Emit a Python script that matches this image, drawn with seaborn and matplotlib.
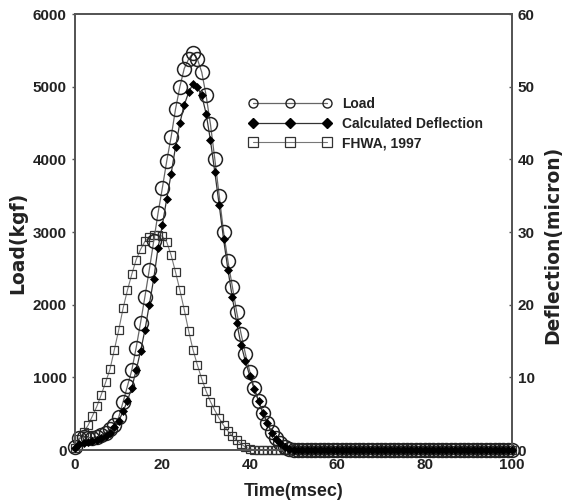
import matplotlib
matplotlib.use("Agg")
import matplotlib.pyplot as plt
from matplotlib.lines import Line2D
from matplotlib.ticker import MultipleLocator
import seaborn as sns

# ---------------- data ----------------
time_ms = [0, 1, 2, 3, 4, 5, 6, 7, 8, 9,
           10, 11, 12, 13, 14, 15, 16, 17, 18, 19,
           20, 21, 22, 23, 24, 25, 26, 27, 28, 29,
           30, 31, 32, 33, 34, 35, 36, 37, 38, 39,
           40, 41, 42, 43, 44, 45, 46, 47, 48, 49,
           50, 51, 52, 53, 54, 55, 56, 57, 58, 59,
           60, 61, 62, 63, 64, 65, 66, 67, 68, 69,
           70, 71, 72, 73, 74, 75, 76, 77, 78, 79,
           80, 81, 82, 83, 84, 85, 86, 87, 88, 89,
           90, 91, 92, 93, 94, 95, 96, 97, 98, 99, 100]

load_kgf = [40, 160, 175, 170, 170, 180, 200, 240, 290, 350,
            450, 660, 880, 1100, 1410, 1750, 2110, 2480, 2870, 3260,
            3610, 3980, 4310, 4690, 5000, 5250, 5380, 5460, 5380, 5200,
            4880, 4480, 4000, 3500, 3000, 2600, 2250, 1900, 1600, 1320,
            1080, 860, 680, 515, 375, 250, 160, 95, 45, 15,
            0, 0, 0, 0, 0, 0, 0, 0, 0, 0,
            0, 0, 0, 0, 0, 0, 0, 0, 0, 0,
            0, 0, 0, 0, 0, 0, 0, 0, 0, 0,
            0, 0, 0, 0, 0, 0, 0, 0, 0, 0,
            0, 0, 0, 0, 0, 0, 0, 0, 0, 0, 0]

deflection_micron = [0.3, 0.8, 1.0, 1.1, 1.2, 1.4, 1.6, 1.9, 2.4, 3.1,
                     4.0, 5.3, 6.8, 8.6, 11.0, 13.6, 16.5, 20.0, 23.5, 27.8,
                     31.0, 34.6, 38.0, 41.7, 45.0, 47.5, 49.2, 50.4, 49.9, 48.8,
                     46.3, 42.6, 38.2, 33.7, 29.0, 24.8, 21.0, 17.5, 14.5, 12.2,
                     10.2, 8.4, 6.7, 5.1, 3.7, 2.4, 1.5, 0.9, 0.4, 0.1,
                     0, 0, 0, 0, 0, 0, 0, 0, 0, 0,
                     0, 0, 0, 0, 0, 0, 0, 0, 0, 0,
                     0, 0, 0, 0, 0, 0, 0, 0, 0, 0,
                     0, 0, 0, 0, 0, 0, 0, 0, 0, 0,
                     0, 0, 0, 0, 0, 0, 0, 0, 0, 0, 0]

fhwa_kgf = [30, 150, 250, 340, 470, 600, 760, 930, 1110, 1380,
            1650, 1950, 2200, 2420, 2620, 2760, 2870, 2930, 2960, 2965,
            2940, 2860, 2680, 2450, 2200, 1930, 1640, 1380, 1170, 980,
            810, 665, 545, 435, 340, 260, 190, 135, 85, 40,
            15, 5, 0, 0, 0, 0, 0, 0, 0, 0,
            0, 0, 0, 0, 0, 0, 0, 0, 0, 0,
            0, 0, 0, 0, 0, 0, 0, 0, 0, 0,
            0, 0, 0, 0, 0, 0, 0, 0, 0, 0,
            0, 0, 0, 0, 0, 0, 0, 0, 0, 0,
            0, 0, 0, 0, 0, 0, 0, 0, 0, 0, 0]

series_labels = ["Load", "Calculated Deflection", "FHWA, 1997"]
x_ticks = [0, 20, 40, 60, 80, 100]
load_ticks = [0, 1000, 2000, 3000, 4000, 5000, 6000]
defl_ticks = [0, 10, 20, 30, 40, 50, 60]

# ---------------- style ----------------
sns.set_style("white")
plt.rcParams["font.family"] = ["Liberation Sans", "DejaVu Sans"]
plt.rcParams["font.weight"] = "bold"
TXT = "#222222"
SPINE = "#555555"

fig = plt.figure(figsize=(5.62, 5.03), dpi=100)
ax = fig.add_axes([75 / 562, 1 - 450 / 503, 437 / 562, 436 / 503])
ax2 = ax.twinx()

sns.lineplot(x=time_ms, y=fhwa_kgf, ax=ax, color="#777777", linewidth=0.8,
             marker="s", markersize=6, markerfacecolor="none",
             markeredgecolor="#333333", markeredgewidth=0.9,
             clip_on=False, zorder=2)
sns.lineplot(x=time_ms, y=load_kgf, ax=ax, color="#666666", linewidth=0.9,
             marker="o", markersize=10, markerfacecolor="none",
             markeredgecolor="#222222", markeredgewidth=1.1,
             clip_on=False, zorder=3)
sns.lineplot(x=time_ms, y=deflection_micron, ax=ax2, color="#333333",
             linewidth=0.9, marker="D", markersize=4.2,
             markerfacecolor="black", markeredgecolor="black",
             markeredgewidth=0.5, clip_on=False, zorder=4)

ax.set_xlim(0, 100)
ax.set_ylim(0, 6000)
ax2.set_ylim(0, 60)
ax.set_xticks(x_ticks)
ax.set_yticks(load_ticks)
ax2.set_yticks(defl_ticks)
ax.xaxis.set_minor_locator(MultipleLocator(2))

ax.tick_params(axis="x", which="major", direction="in", length=3, width=1,
               color=SPINE, pad=6, labelsize=11, labelcolor=TXT)
ax.tick_params(axis="x", which="minor", direction="in", length=1.5,
               width=0.8, color=SPINE)
ax.tick_params(axis="y", direction="out", length=2.5, width=1, color=SPINE,
               pad=3.5, labelsize=11, labelcolor=TXT)
ax2.tick_params(axis="y", direction="in", length=2.5, width=1, color=SPINE,
                pad=4, labelsize=11, labelcolor=TXT)
for lab in ax.get_xticklabels() + ax.get_yticklabels() + ax2.get_yticklabels():
    lab.set_fontweight("bold")

for a in (ax, ax2):
    for s in a.spines.values():
        s.set_color(SPINE)
        s.set_linewidth(1.3)
        s.set_visible(True)

ylab_font = {"family": ["DejaVu Sans"], "size": 13.5, "weight": "bold"}
ax.set_xlabel("Time(msec)", fontsize=13, fontweight="bold", color=TXT)
ax.set_ylabel("Load(kgf)", fontdict=ylab_font, color=TXT)
ax2.set_ylabel("Deflection(micron)", fontdict=ylab_font, color=TXT)
ax.xaxis.set_label_coords(0.5, (450 - 491) / 436)
ax.xaxis.label.set_va("center")
ax.yaxis.set_label_coords((18 - 75) / 437, 0.475)
ax.yaxis.label.set_va("center")
ax2.yaxis.set_label_coords((553 - 75) / 437, 0.47)
ax2.yaxis.label.set_va("center")
ax2.yaxis.label.set_rotation(90)

handles = [
    Line2D([], [], color="#666666", lw=0.9, marker="o", ms=6.5,
           mfc="none", mec="#222222", mew=1.0),
    Line2D([], [], color="#333333", lw=0.9, marker="D", ms=5.5,
           mfc="black", mec="black"),
    Line2D([], [], color="#777777", lw=0.8, marker="s", ms=6.5,
           mfc="none", mec="#333333", mew=0.9),
]
leg = ax2.legend(handles, series_labels, loc="upper left",
                 bbox_to_anchor=(248.8 / 562, 1 - 97.2 / 503),
                 bbox_transform=fig.transFigure, frameon=False,
                 numpoints=3, handlelength=5.92, handletextpad=0.78,
                 labelspacing=0.4, borderpad=0, borderaxespad=0,
                 prop={"size": 10, "weight": "bold"})
for t in leg.get_texts():
    t.set_color(TXT)
if ax.get_legend() is not None:
    ax.get_legend().remove()

fig.savefig("out.png", dpi=100)
